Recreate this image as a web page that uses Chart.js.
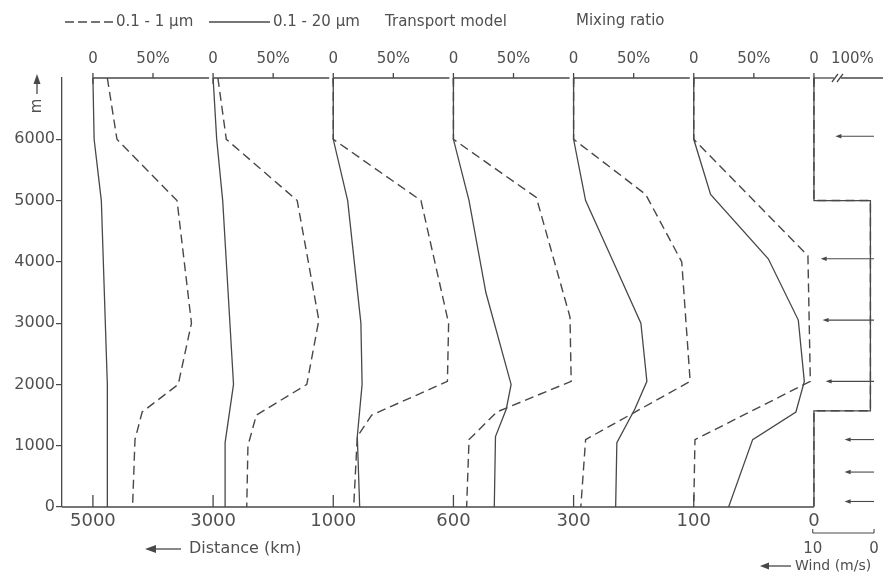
<!DOCTYPE html>
<html><head><meta charset="utf-8">
<script src="https://cdn.jsdelivr.net/npm/chart.js@4.4.1/dist/chart.umd.min.js"></script>
<style>html,body{margin:0;padding:0;background:#fff;}#wrap{width:884px;height:578px;position:relative;}</style>
</head><body><div id="wrap"><canvas id="c"></canvas></div>
<script>
// ---- data (height m, mixing ratio %) ----
const distanceLabels = ['5000','3000','1000','600','300','100','0'];
const heightTicks = [0,1000,2000,3000,4000,5000,6000];
const fine5000   = [[7000,12],[6000,20],[5000,70],[3000,82],[2000,71],[1550,41],[1100,35],[0,33]];
const coarse5000 = [[7000,0],[6000,1],[5000,7],[2000,12],[0,12]];
const fine3000   = [[7000,4],[6000,11],[5000,70],[3050,88],[2000,78],[1500,36],[1000,29],[0,28]];
const coarse3000 = [[7000,0],[6000,3],[5000,8],[2000,17],[1050,10],[0,10]];
const fine1000   = [[7000,0],[6000,0],[5000,73],[3000,96],[2050,95],[1500,32],[1150,20],[0,17]];
const coarse1000 = [[7000,0],[6000,0],[5000,12],[3000,23],[2000,24],[1150,20],[0,22]];
const fine600    = [[7000,0],[6000,0],[5050,69],[3100,97],[2050,98],[1550,36],[1100,13],[0,11]];
const coarse600  = [[7000,0],[6000,0],[5000,13],[3500,27],[2000,48],[1600,44],[1150,35],[0,34]];
const fine300    = [[7000,0],[6000,0],[5100,60],[4000,90],[2050,97],[1100,10],[0,6]];
const coarse300  = [[7000,0],[6000,0],[5000,10],[4000,33],[3000,56],[2050,61],[1600,51],[1050,36],[0,35]];
const fine100    = [[7000,0],[6000,0],[4100,95],[2050,97],[1100,1],[0,0]];
const coarse100  = [[7000,0],[6000,0],[5100,14],[4050,62],[3050,87],[2050,92],[1550,85],[1100,49],[0,29]];
const source0    = [[7000,0],[5000,0],[5000,100],[1570,100],[1570,0],[0,0]];
const windHeights = [6050,4050,3050,2050,1100,570,90];
const windSpeeds  = [6.3,8.7,8.4,7.9,4.8,4.8,4.8];

// ---- layout constants ----
const INK = '#484848', TXT = '#505050';
const FONT = '"DejaVu Sans", sans-serif';
const X_MIN = -25.73, X_MAX = 651.45;   // 100 units per panel
const LAST_FACTOR = 0.47;               // compressed last (0 km) panel
const WIND_ZERO = 650, WIND_UNIT = 5.1; // units per m/s
const TOP100_AT = 632;

const fines = [fine5000,fine3000,fine1000,fine600,fine300,fine100,source0];
const coarses = [coarse5000,coarse3000,coarse1000,coarse600,coarse300,coarse100,source0];
function toPts(arr, i){
  const f = i === 6 ? LAST_FACTOR : 1;
  return arr.map(p => ({x: i*100 + p[1]*f, y: p[0]}));
}
const datasets = [];
for (let i=0;i<7;i++){
  datasets.push({data: toPts(coarses[i], i), borderColor: INK, borderWidth: 1.3, showLine: true, pointRadius: 0, tension: 0, fill: false});
  datasets.push({data: toPts(fines[i], i), borderColor: INK, borderWidth: 1.4, borderDash: [9,5], showLine: true, pointRadius: 0, tension: 0, fill: false});
}

function seg(ctx,x0,y0,x1,y1){ctx.beginPath();ctx.moveTo(x0,y0);ctx.lineTo(x1,y1);ctx.stroke();}
function arrowLeft(ctx,x0,x1,y,hl,hw){
  seg(ctx,x0,y,x1+hl*0.6,y);
  ctx.beginPath();ctx.moveTo(x1,y);ctx.lineTo(x1+hl,y-hw);ctx.lineTo(x1+hl,y+hw);ctx.closePath();ctx.fill();
}

const decor = {
  id: 'decor',
  afterDraw(chart){
    const ctx = chart.ctx, xs = chart.scales.x, ys = chart.scales.y;
    const yTop = ys.getPixelForValue(7000), yBot = ys.getPixelForValue(0);
    ctx.save();
    ctx.strokeStyle = INK; ctx.fillStyle = INK; ctx.lineWidth = 1.3;
    for (let i=0;i<6;i++){
      const x0 = xs.getPixelForValue(i*100), x1 = xs.getPixelForValue(i*100+100), xm = xs.getPixelForValue(i*100+50);
      seg(ctx,x0,yTop,x1-4,yTop);
      seg(ctx,x0,yTop-5,x0,yTop+6);
      seg(ctx,xm,yTop-5,xm,yTop);
      seg(ctx,x0,yBot,x0,yBot-12);
    }
    const xl = xs.getPixelForValue(600);
    seg(ctx,xl,yTop-5,xl,yTop+6);
    seg(ctx,xl,yTop,xl+20,yTop);
    seg(ctx,xl+27,yTop,chart.width-1,yTop);
    seg(ctx,xl+18,yTop+4,xl+24,yTop-4);
    seg(ctx,xl+23,yTop+4,xl+29,yTop-4);
    // baseline
    seg(ctx,xs.left,yBot,xl,yBot);
    // wind arrows
    ctx.lineWidth = 1.1;
    const wz = xs.getPixelForValue(WIND_ZERO);
    windHeights.forEach((h,k)=>{
      const y = ys.getPixelForValue(h);
      arrowLeft(ctx, wz, xs.getPixelForValue(WIND_ZERO - windSpeeds[k]*WIND_UNIT), y, 6, 2.2);
    });
    // wind scale bar
    const w10 = xs.getPixelForValue(WIND_ZERO - 10*WIND_UNIT);
    seg(ctx,w10,533,wz,533); seg(ctx,w10,533,w10,529); seg(ctx,wz,533,wz,529);
    ctx.fillStyle = TXT; ctx.font = '15px ' + FONT; ctx.textAlign = 'center'; ctx.textBaseline = 'middle';
    ctx.fillText('10', w10, 549); ctx.fillText('0', wz, 549);
    // wind title
    ctx.fillStyle = INK; ctx.lineWidth = 1.3;
    arrowLeft(ctx, 791, 760, 566, 9, 3.5);
    ctx.fillStyle = TXT; ctx.font = '14px ' + FONT; ctx.textAlign = 'left';
    ctx.fillText('Wind (m/s)', 795, 566);
    // distance title
    ctx.fillStyle = INK;
    arrowLeft(ctx, 181, 145, 549, 11, 4);
    ctx.fillStyle = TXT; ctx.font = '16px ' + FONT;
    ctx.fillText('Distance (km)', 189, 549);
    // height title: arrow + rotated m
    ctx.fillStyle = INK;
    seg(ctx,37,94,37,82);
    ctx.beginPath();ctx.moveTo(37,74);ctx.lineTo(33.5,84);ctx.lineTo(40.5,84);ctx.closePath();ctx.fill();
    ctx.save(); ctx.translate(37,106); ctx.rotate(-Math.PI/2);
    ctx.fillStyle = TXT; ctx.font = '15px ' + FONT; ctx.textAlign = 'center'; ctx.textBaseline = 'middle';
    ctx.fillText('m',0,0); ctx.restore();
    // legend
    ctx.strokeStyle = INK; ctx.lineWidth = 1.3;
    ctx.setLineDash([9,4]); seg(ctx,65,22,113,22); ctx.setLineDash([]);
    seg(ctx,209,22,270,22);
    ctx.fillStyle = TXT; ctx.font = '15px ' + FONT; ctx.textAlign = 'left'; ctx.textBaseline = 'middle';
    ctx.fillText('0.1 - 1 µm', 116, 22);
    ctx.fillText('0.1 - 20 µm', 273, 22);
    ctx.fillText('Transport model', 385, 22);
    ctx.fillText('Mixing ratio', 576, 21);
    ctx.restore();
  }
};

Chart.defaults.font.family = FONT;
Chart.defaults.color = TXT;
new Chart(document.getElementById('c'), {
  type: 'scatter',
  data: {datasets},
  options: {
    responsive: true, maintainAspectRatio: false, animation: false,
    layout: {padding: {left: 0, right: 6, top: 0, bottom: 0}},
    plugins: {legend: {display: false}, tooltip: {enabled: false}},
    scales: {
      x: {
        type: 'linear', position: 'bottom', min: X_MIN, max: X_MAX,
        afterBuildTicks: s => { s.ticks = distanceLabels.map((_,i)=>({value: i*100})); },
        ticks: {autoSkip: false, maxRotation: 0, padding: 4, font: {size: 18}, color: TXT,
                callback: v => distanceLabels[Math.round(v/100)]},
        grid: {display: false, drawTicks: false}, border: {display: false},
        afterFit: s => { s.height = 71; }
      },
      x2: {
        type: 'linear', position: 'top', min: X_MIN, max: X_MAX,
        afterBuildTicks: s => {
          const t = [];
          for (let i=0;i<=6;i++){ t.push({value: i*100}); if (i<6) t.push({value: i*100+50}); }
          t.push({value: TOP100_AT});
          s.ticks = t;
        },
        ticks: {autoSkip: false, maxRotation: 0, padding: 10, font: {size: 15}, color: TXT,
                callback: v => v === TOP100_AT ? '100%' : (v % 100 === 0 ? '0' : '50%')},
        grid: {display: false, drawTicks: false}, border: {display: false},
        afterFit: s => { s.height = 78; }
      },
      y: {
        type: 'linear', min: 0, max: 7000,
        afterBuildTicks: s => { s.ticks = heightTicks.map(v=>({value: v})); },
        ticks: {padding: 1, font: {size: 16}, color: TXT, callback: v => String(v)},
        grid: {display: true, drawOnChartArea: false, drawTicks: true, tickLength: 6, color: INK, lineWidth: 1.2},
        border: {display: true, color: INK, width: 1.3},
        afterFit: s => { s.width = 62; }
      }
    }
  },
  plugins: [decor]
});
</script></body></html>
